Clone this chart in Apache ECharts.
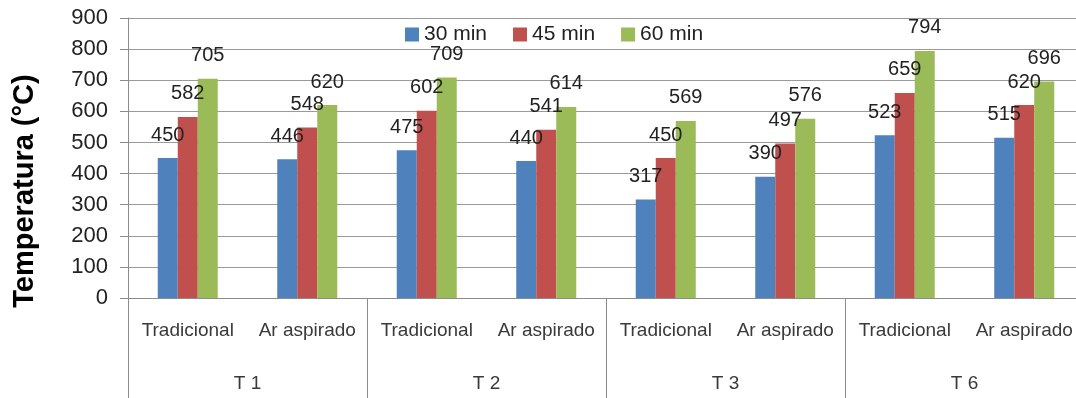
<!DOCTYPE html>
<html>
<head>
<meta charset="utf-8">
<script src="https://cdn.jsdelivr.net/npm/echarts@6/dist/echarts.min.js"></script>
<style>
  html, body { margin: 0; padding: 0; background: #fff; overflow: hidden; }
  /* the drawing surface is a bit wider than the window: the last group runs past the right edge */
  #chart { width: 1092px; height: 398px; }
</style>
</head>
<body>
<div id="chart"></div>
<script>
// Furnace temperature after 30, 45 and 60 minutes, per treatment and air mode
const groups = ['T 1', 'T 2', 'T 3', 'T 6'];
const categories = ['Tradicional', 'Ar aspirado', 'Tradicional', 'Ar aspirado',
                    'Tradicional', 'Ar aspirado', 'Tradicional', 'Ar aspirado'];
const seriesNames = ['30 min', '45 min', '60 min'];
const min30 = [450, 446, 475, 440, 317, 390, 523, 515];
const min45 = [582, 548, 602, 541, 450, 497, 659, 620];
const min60 = [705, 620, 709, 614, 569, 576, 794, 696];
const yTicks = { min: 0, max: 900, interval: 100 };
const yTitle = 'Temperatura (°C)';

const colors = ['#4F81BD', '#C0504D', '#9BBB59'];
const values = [min30, min45, min60];
const font = 'Liberation Sans, Arial, sans-serif';

const chart = echarts.init(document.getElementById('chart'), null, { renderer: 'canvas' });

chart.setOption({
  animation: false,
  color: colors,
  textStyle: { fontFamily: font },
  grid: { left: 128, top: 18, width: 956, bottom: 100, containLabel: false },
  legend: {
    data: seriesNames,
    left: 405,
    top: 24,
    padding: 0,
    itemWidth: 14,
    itemHeight: 14,
    itemGap: 26,
    icon: 'rect',
    textStyle: { fontSize: 21, color: '#222', fontFamily: font }
  },
  xAxis: [
    {
      type: 'category',
      data: categories,
      position: 'bottom',
      axisLine: { show: true, lineStyle: { color: '#8c8c8c', width: 1 } },
      axisTick: { show: false },
      axisLabel: { margin: 23, fontSize: 19, color: '#3a3a3a', fontFamily: font, interval: 0 }
    },
    {
      type: 'category',
      data: groups,
      position: 'bottom',
      axisLine: { show: false },
      axisTick: { show: true, length: 100, lineStyle: { color: '#8c8c8c', width: 1 } },
      axisLabel: { margin: 76, fontSize: 19, color: '#3a3a3a', fontFamily: font, interval: 0 }
    }
  ],
  yAxis: {
    type: 'value',
    min: yTicks.min,
    max: yTicks.max,
    interval: yTicks.interval,
    axisLine: { show: true, lineStyle: { color: '#8c8c8c', width: 1 } },
    axisTick: { show: true, length: 8, inside: false, lineStyle: { color: '#8c8c8c' } },
    splitLine: { show: true, lineStyle: { color: '#9a9a9a', width: 1 } },
    axisLabel: { margin: 20, fontSize: 22, color: '#222', fontFamily: font }
  },
  series: seriesNames.map((name, i) => ({
    name: name,
    type: 'bar',
    xAxisIndex: 0,
    data: values[i],
    barWidth: 20,
    barGap: '0%',
    itemStyle: { color: colors[i] },
    label: {
      show: true,
      position: 'top',
      distance: 13,
      fontSize: 20,
      color: '#222',
      fontFamily: font
    }
  })),
  graphic: [
    {
      type: 'text',
      x: 25,
      y: 191,
      rotation: Math.PI / 2,
      style: {
        text: yTitle,
        font: 'bold 29px ' + font,
        fill: '#000',
        textAlign: 'center',
        textVerticalAlign: 'middle'
      }
    }
  ]
});
</script>
</body>
</html>
